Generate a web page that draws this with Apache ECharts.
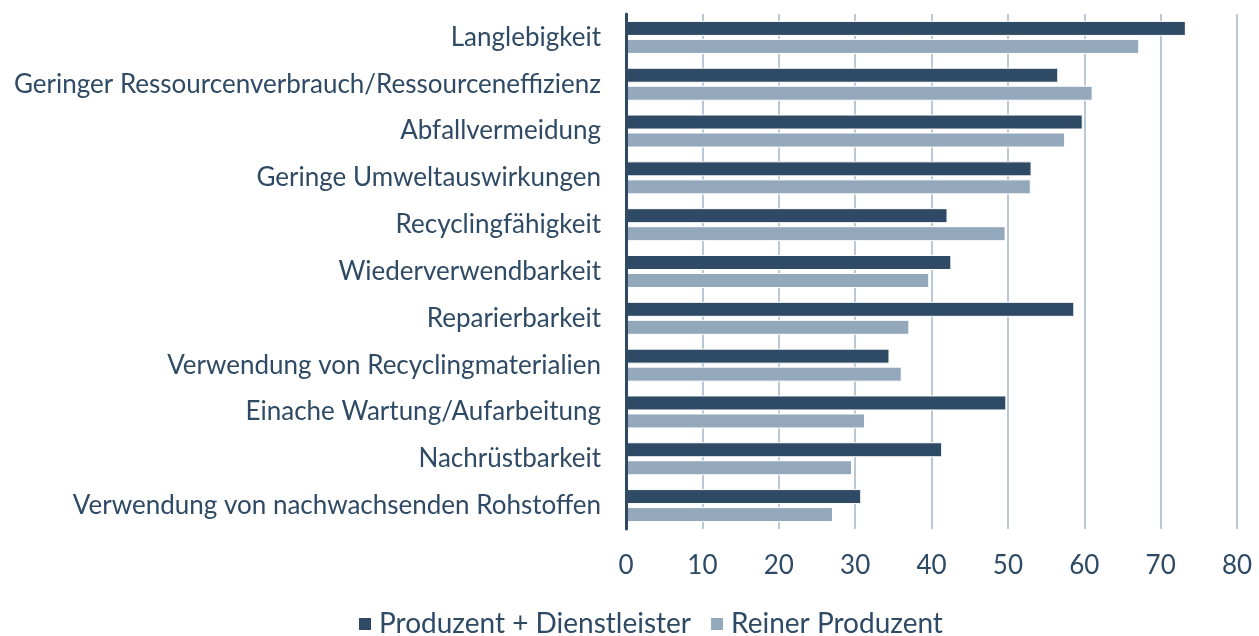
<!DOCTYPE html>
<html>
<head>
<meta charset="utf-8">
<script src="https://cdn.jsdelivr.net/npm/echarts@6/dist/echarts.min.js"></script>
<style>html,body{margin:0;padding:0;background:#fff;}#c{width:1259px;height:636px;}</style>
</head>
<body>
<div id="c"></div>
<script>
const categories = [
  "Langlebigkeit",
  "Geringer Ressourcenverbrauch/Ressourceneffizienz",
  "Abfallvermeidung",
  "Geringe Umweltauswirkungen",
  "Recyclingfähigkeit",
  "Wiederverwendbarkeit",
  "Reparierbarkeit",
  "Verwendung von Recyclingmaterialien",
  "Einache Wartung/Aufarbeitung",
  "Nachrüstbarkeit",
  "Verwendung von nachwachsenden Rohstoffen"
];
const seriesNames = ["Produzent + Dienstleister", "Reiner Produzent"];
const produzentDienstleister = [73.3, 56.6, 59.8, 53.1, 42.1, 42.6, 58.7, 34.5, 49.8, 41.4, 30.8];
const reinerProduzent = [67.2, 61.1, 57.5, 53.0, 49.7, 39.7, 37.1, 36.1, 31.3, 29.6, 27.1];
const xTicks = { min: 0, max: 80, interval: 10 };

const textColor = '#2f4a65';
const font = 'Lato, "Open Sans", sans-serif';

const chart = echarts.init(document.getElementById('c'));
chart.setOption({
  animation: false,
  textStyle: { fontFamily: font },
  grid: { left: 626, right: 22, top: 14, bottom: 107, containLabel: false },
  legend: {
    top: 605,
    left: 352,
    padding: 5,
    itemWidth: 14,
    itemHeight: 14,
    itemGap: 18,
    icon: 'rect',
    textStyle: { color: textColor, fontSize: 28, fontFamily: font, padding: [0, 0, 0, 2] },
    data: seriesNames
  },
  xAxis: {
    type: 'value',
    min: xTicks.min,
    max: xTicks.max,
    interval: xTicks.interval,
    axisLine: { show: false },
    axisTick: { show: false },
    axisLabel: { color: textColor, fontSize: 26, margin: 24, fontFamily: font },
    splitLine: { show: true, lineStyle: { color: '#b9c9d8', width: 2 } }
  },
  yAxis: {
    type: 'category',
    inverse: true,
    z: 5,
    data: categories,
    axisLine: { show: true, lineStyle: { color: '#2f4a65', width: 3 } },
    axisTick: { show: false },
    axisLabel: { color: textColor, fontSize: 26, margin: 25, fontFamily: font }
  },
  series: [
    {
      name: seriesNames[0],
      type: 'bar',
      data: produzentDienstleister,
      barWidth: 15,
      barGap: '20%',
      itemStyle: { color: '#2f4a65', borderColor: '#ffffff', borderWidth: 1 }
    },
    {
      name: seriesNames[1],
      type: 'bar',
      data: reinerProduzent,
      barWidth: 15,
      barGap: '20%',
      itemStyle: { color: '#94a8bc', borderColor: '#ffffff', borderWidth: 1 }
    }
  ]
});
</script>
</body>
</html>
